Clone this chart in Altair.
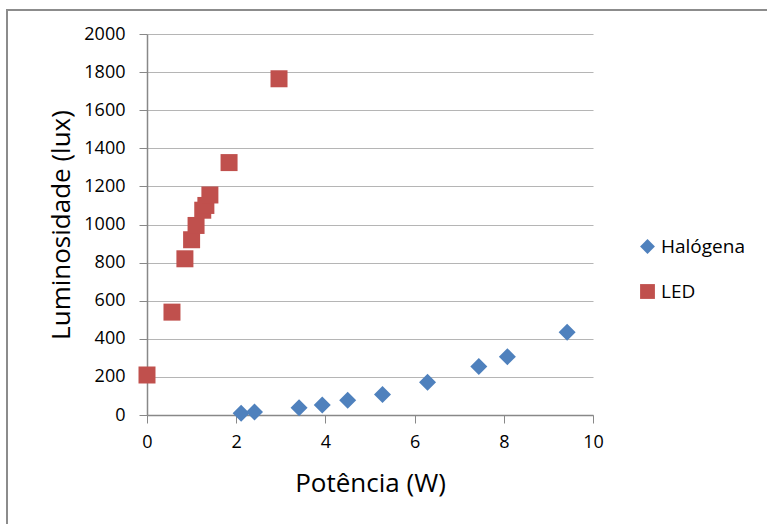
import altair as alt
import pandas as pd

led_x = [0.0, 0.56, 0.85, 1.0, 1.1, 1.25, 1.32, 1.41, 1.84, 2.96]
led_y = [210, 540, 820, 920, 995, 1075, 1100, 1155, 1325, 1765]
hal_x = [2.11, 2.41, 3.41, 3.93, 4.50, 5.28, 6.29, 7.44, 8.08, 9.42]
hal_y = [9, 16, 38, 52, 77, 108, 172, 254, 306, 434]
series = ["Halógena", "LED"]
colors = ["#4F81BD", "#C0504D"]
shapes = ["diamond", "square"]

df = pd.concat([
    pd.DataFrame({"x": hal_x, "y": hal_y, "s": series[0]}),
    pd.DataFrame({"x": led_x, "y": led_y, "s": series[1]}),
])

FONT = "Open Sans"

frame = alt.Chart(pd.DataFrame({"a": [0]})).mark_rect(
    fill=None, stroke="#8c8c8c", strokeWidth=2
).encode(
    x=alt.value(-140), x2=alt.value(640), y=alt.value(-24), y2=alt.value(510)
)

points = alt.Chart(df).mark_point(filled=True, size=289, opacity=1).encode(
    x=alt.X("x:Q", scale=alt.Scale(domain=[0, 10], nice=False),
            axis=alt.Axis(values=[0, 2, 4, 6, 8, 10], title="Potência (W)",
                          grid=False, tickSize=8, labelPadding=10,
                          labelFlush=False, format="d",
                          titlePadding=19)),
    y=alt.Y("y:Q", scale=alt.Scale(domain=[0, 2000], nice=False),
            axis=alt.Axis(values=list(range(0, 2001, 200)), format="d",
                          title="Luminosidade (lux)", grid=True,
                          tickSize=8, labelPadding=14, titlePadding=9)),
    color=alt.Color("s:N", scale=alt.Scale(domain=series, range=colors),
                    legend=alt.Legend(title=None, orient="none", legendX=491,
                                      legendY=203, symbolSize=220,
                                      labelFontSize=19, labelFont=FONT,
                                      labelColor="#000", rowPadding=24,
                                      symbolOpacity=1)),
    shape=alt.Shape("s:N", scale=alt.Scale(domain=series, range=shapes)),
)

chart = alt.layer(frame, points).properties(
    width=446, height=381,
    autosize=alt.AutoSizeParams(type="none"),
    padding={"left": 147, "top": 34, "right": 174, "bottom": 109},
).configure_view(stroke=None).configure_axis(
    labelFont=FONT, labelFontSize=18, labelColor="#000",
    titleFont=FONT, titleFontSize=26, titleFontWeight="normal", titleColor="#000",
    domainColor="#888", tickColor="#888", gridColor="#b5b5b5", domainWidth=1.5,
)

chart.save("out.html", embed_options={"renderer": "svg", "actions": False})
